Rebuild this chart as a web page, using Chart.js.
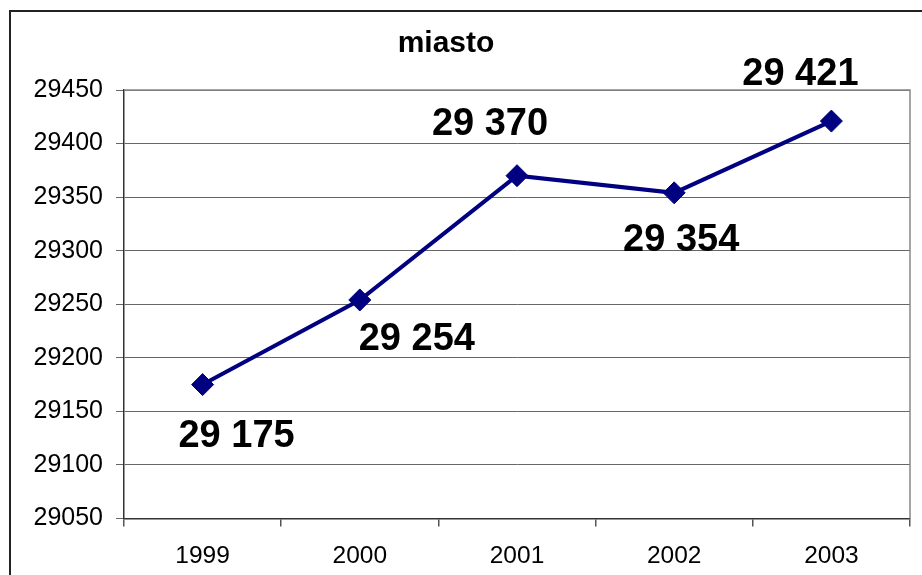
<!DOCTYPE html>
<html><head><meta charset="utf-8">
<script src="https://cdn.jsdelivr.net/npm/chart.js@4"></script>
<style>html,body{margin:0;padding:0;background:#fff;overflow:hidden;}</style>
</head><body>
<canvas id="c" width="922" height="575"></canvas>
<script>
const chartTitle = 'miasto';
const years = ['1999', '2000', '2001', '2002', '2003'];
const values = [29175, 29254, 29370, 29354, 29421];
const yMin = 29050, yMax = 29450, yStep = 50;

const FONT = "'Liberation Sans', Arial, sans-serif";
Chart.defaults.font.family = FONT;
Chart.defaults.color = '#000';

const fmt = v => String(v).replace(/\B(?=(\d{3})+(?!\d))/g, ' ');

const framePlugin = {
  id: 'frame',
  beforeDraw(chart) {
    const ctx = chart.ctx;
    ctx.save();
    ctx.fillStyle = '#fff';
    ctx.fillRect(0, 0, chart.width, chart.height);
    ctx.strokeStyle = '#222';
    ctx.lineWidth = 2;
    ctx.strokeRect(10, 11, chart.width + 50, chart.height + 50);
    ctx.fillStyle = '#000';
    ctx.font = 'bold 30px ' + FONT;
    ctx.textAlign = 'center';
    ctx.textBaseline = 'alphabetic';
    ctx.fillText(chartTitle, 446, 52);
    ctx.restore();
  },
  beforeDatasetsDraw(chart) {
    const a = chart.chartArea, ctx = chart.ctx;
    ctx.save();
    ctx.strokeStyle = '#888';
    ctx.lineWidth = 1.5;
    ctx.beginPath();
    ctx.moveTo(a.left, a.top);
    ctx.lineTo(a.right, a.top);
    ctx.lineTo(a.right, a.bottom);
    ctx.stroke();
    ctx.restore();
  }
};

const valueLabels = {
  id: 'valueLabels',
  afterDatasetsDraw(chart, args, opts) {
    const ctx = chart.ctx;
    const meta = chart.getDatasetMeta(0);
    ctx.save();
    ctx.fillStyle = '#000';
    ctx.font = 'bold 38px ' + FONT;
    ctx.textAlign = 'center';
    ctx.textBaseline = 'middle';
    meta.data.forEach((pt, i) => {
      const off = opts.offsets[i];
      ctx.fillText(fmt(chart.data.datasets[0].data[i]), pt.x + off[0], pt.y + off[1]);
    });
    ctx.restore();
  }
};

new Chart(document.getElementById('c'), {
  type: 'line',
  data: {
    labels: years,
    datasets: [{
      label: chartTitle,
      data: values,
      borderColor: '#000080',
      backgroundColor: '#000080',
      borderWidth: 4,
      tension: 0,
      pointStyle: 'rectRot',
      pointRadius: 11,
      pointBorderWidth: 1,
      pointBackgroundColor: '#000080',
      pointBorderColor: '#000080',
      clip: false
    }]
  },
  options: {
    responsive: false,
    animation: false,
    devicePixelRatio: 1,
    layout: { padding: { top: 90, right: 10, left: 0, bottom: 0 } },
    plugins: {
      legend: { display: false },
      tooltip: { enabled: false },
      title: { display: false },
      valueLabels: { offsets: [[34, 52], [57, 40], [-27, -51], [7, 48], [-31, -47]] }
    },
    scales: {
      x: {
        offset: true,
        grid: { offset: true, drawOnChartArea: false, drawTicks: true, tickLength: 8, color: '#555', lineWidth: 1.5 },
        border: { display: true, color: '#333', width: 1.5 },
        ticks: { font: { size: 24.5 }, padding: 15, color: '#000', maxRotation: 0 },
        afterFit(s) { s.height = 56.5; }
      },
      y: {
        min: yMin, max: yMax,
        grid: { color: '#666', lineWidth: 1, tickLength: 8, drawTicks: true },
        border: { display: true, color: '#333', width: 1.5 },
        ticks: { stepSize: yStep, font: { size: 25 }, padding: 13, color: '#000', callback: v => String(v) },
        afterFit(s) { s.width = 124; }
      }
    }
  },
  plugins: [framePlugin, valueLabels]
});
</script>
</body></html>
